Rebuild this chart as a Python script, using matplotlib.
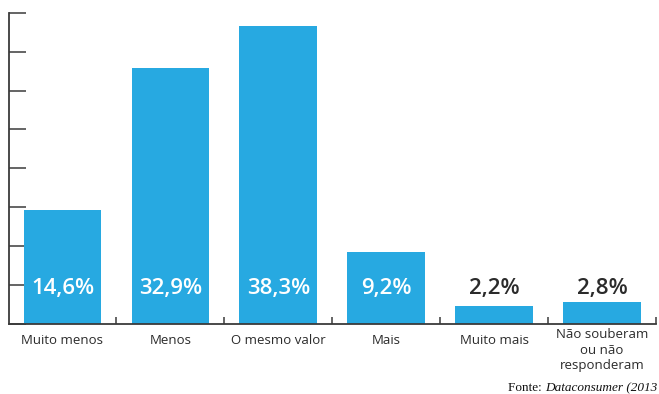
import matplotlib
matplotlib.use("Agg")
import matplotlib.pyplot as plt
from matplotlib.ticker import FixedLocator, NullFormatter
from matplotlib.transforms import ScaledTranslation

categories = ["Muito menos", "Menos", "O mesmo valor", "Mais", "Muito mais",
              "Não souberam\nou não\nresponderam"]
values = [14.6, 32.9, 38.3, 9.2, 2.2, 2.8]
value_labels = ["14,6%", "32,9%", "38,3%", "9,2%", "2,2%", "2,8%"]
y_ticks = [0, 5, 10, 15, 20, 25, 30, 35, 40]

bar_color = "#27A9E1"
axis_color = "#3a3a3a"
text_color = "#2b2b2b"

fig = plt.figure(figsize=(6.59, 3.94), dpi=100)
W, H = 659, 394
left, right, top, bottom = 8.5, 656, 13, 323.5
ax = fig.add_axes([left / W, 1 - bottom / H, (right - left) / W, (bottom - top) / H])

x = list(range(len(categories)))
ax.bar(x, values, width=0.72, color=bar_color, zorder=2)

ax.set_xlim(-0.5, len(categories) - 0.5)
ax.set_ylim(0, 40)

for side in ("top", "right"):
    ax.spines[side].set_visible(False)
for side in ("left", "bottom"):
    ax.spines[side].set_color(axis_color)
    ax.spines[side].set_linewidth(1.3)

ax.set_yticks(y_ticks)
ax.yaxis.set_major_formatter(NullFormatter())
ax.tick_params(axis="y", direction="in", length=12, width=1.1, color=axis_color)

# separator ticks between categories
ax.set_xticks([])
ax.xaxis.set_minor_locator(FixedLocator([i + 0.5 for i in range(len(categories))]))
ax.tick_params(axis="x", which="minor", direction="in", length=5, width=1.1,
               color=axis_color)

# category labels under the bars (multi-line block sits a little higher)
trans = ax.get_xaxis_transform()
for xi, cat in zip(x, categories):
    n = cat.count("\n") + 1
    off = -11 if n == 1 else -5
    ax.text(xi, 0, cat, ha="center", va="top", fontsize=9.5, color=text_color,
            family="Open Sans", linespacing=1.2,
            transform=trans + ScaledTranslation(0, off / 100, fig.dpi_scale_trans))

label_y = 4.5
for xi, v, lab in zip(x, values, value_labels):
    inside = v > label_y + 2
    ax.text(xi, label_y, lab, ha="center", va="center", fontsize=16,
            family="Open Sans", fontweight="semibold",
            color="white" if inside else text_color, zorder=3)

src = fig.text(508 / W, 1 - 391 / H, "Fonte: ", ha="left", va="baseline", fontsize=9.5,
               family="Liberation Serif", color="#111111")
fig.canvas.draw()
bb = src.get_window_extent()
fig.text(bb.x1 / W, 1 - 391 / H, "Dataconsumer (2013", ha="left", va="baseline",
         fontsize=9.5, family="Liberation Serif", style="italic", color="#111111")

fig.savefig("out.png", dpi=100)
